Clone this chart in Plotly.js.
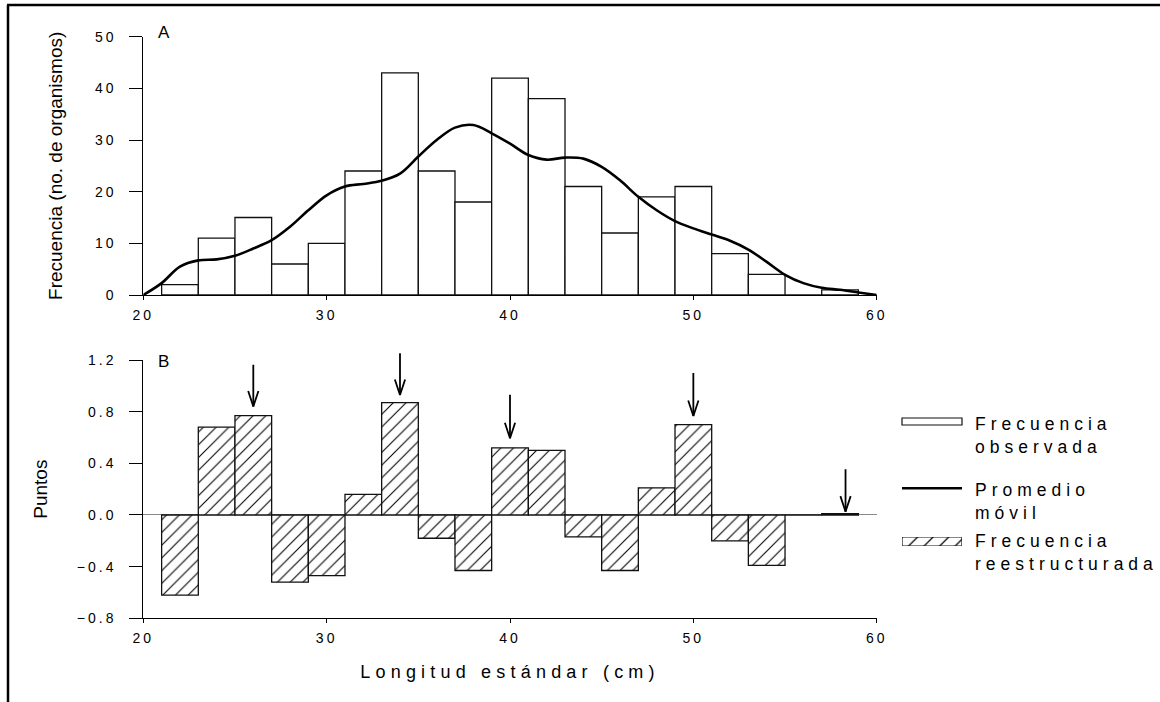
<!DOCTYPE html>
<html><head><meta charset="utf-8">
<script src="https://cdn.plot.ly/plotly-3.0.1.min.js"></script>
<style>
body{margin:0;padding:0;background:#fff}
#chart{width:1160px;height:702px}
.xtick text,.ytick text,.x2tick text,.y2tick text{letter-spacing:3px}
.g-xtitle text,.g-x2title text{letter-spacing:5.2px}
.annotation-text{letter-spacing:5px}
</style></head><body><div id="chart"></div>
<script>
// ---- data ----
const lengthBins = [22,24,26,28,30,32,34,36,38,40,42,44,46,48,50,52,54,56,58];
const observedFreq = [2,11,15,6,10,24,43,24,18,42,38,21,12,19,21,8,4,0,1];
const restructuredPts = [-0.62,0.68,0.77,-0.52,-0.47,0.16,0.87,-0.18,-0.43,0.52,0.50,-0.17,-0.43,0.21,0.70,-0.20,-0.39,0,0.01];
const movAvgX = [20,21,22,23,24,25,26,27,28,29,30,31,32,33,34,35,36,37,38,39,40,41,42,43,44,45,46,47,48,49,50,51,52,53,54,55,56,57,58,59,60];
const movAvgY = [0,2.3,5.5,6.7,6.9,7.6,9.0,10.6,13.2,16.4,19.3,21.0,21.5,22.1,23.5,26.8,30.0,32.4,32.9,31.3,29.3,27.1,26.2,26.6,26.4,24.8,22.2,19.0,16.4,14.3,12.9,11.7,10.5,8.8,6.4,3.9,2.3,1.4,1.0,0.5,0];
const peakX = [26,34,40,50,58.3];
const arrowTop = [1.175,1.264,0.942,1.11,0.366];
const arrowTip = [0.84,0.929,0.594,0.766,0.026];
const xTicks = [20,30,40,50,60];
const freqTicks = [0,10,20,30,40,50];
const ptsTicks = [-0.8,-0.4,0,0.4,0.8,1.2];
const legendLabels = ["Frecuencia<br>observada","Promedio<br>móvil","Frecuencia<br>reestructurada"];

// ---- styles / geometry ----
const W = 1160, H = 702;
const px = v => v / W, py = v => 1 - v / H;
const FONT = "Liberation Sans, Arial, Helvetica, sans-serif";
const xDom = [px(143.3), px(876.7)];

// arrowheads (open V) built from the arrow arrays
const headHalfW = 0.28, headLen = 0.12;
const headX = [], headY = [];
peakX.forEach((x, i) => {
  headX.push(x - headHalfW, x, x + headHalfW, null);
  headY.push(arrowTip[i] + headLen, arrowTip[i], arrowTip[i] + headLen, null);
});
// arrow shafts as annotations (not clipped at the top of the panel)
const shaftAnnots = peakX.map((x, i) => ({
  xref:'x2', yref:'y2', axref:'x2', ayref:'y2', x:x, y:arrowTip[i], ax:x, ay:arrowTop[i],
  text:'', showarrow:true, arrowhead:0, arrowwidth:1.8, arrowcolor:'#000', standoff:0, startstandoff:0
}));

const hatch = {shape:'/', fgcolor:'#000', bgcolor:'#fff', size:9, solidity:0.12};

const traces = [
  {type:'bar', x:lengthBins, y:observedFreq, width:2, xaxis:'x', yaxis:'y',
   marker:{color:'#fff', line:{color:'#111', width:1.3}}, name:'Frecuencia observada', showlegend:false},
  {type:'scatter', mode:'lines', x:movAvgX, y:movAvgY, xaxis:'x', yaxis:'y',
   line:{color:'#000', width:2.6, shape:'spline', smoothing:1}, name:'Promedio móvil', showlegend:false},
  {type:'bar', x:lengthBins, y:restructuredPts, width:2, xaxis:'x2', yaxis:'y2',
   marker:{color:'#fff', pattern:hatch, line:{color:'#111', width:1.3}}, name:'Frecuencia reestructurada', showlegend:false},
  {type:'scatter', mode:'lines', x:headX, y:headY, xaxis:'x2', yaxis:'y2', cliponaxis:false,
   line:{color:'#000', width:1.8}, showlegend:false, hoverinfo:'skip'},
  // legend swatch for hatched bars
  {type:'bar', x:[0.5], y:[1], width:[1], xaxis:'x3', yaxis:'y3',
   marker:{color:'#fff', pattern:{shape:'/', fgcolor:'#000', bgcolor:'#fff', size:11, solidity:0.11}, line:{color:'#111', width:1.2}},
   showlegend:false, hoverinfo:'skip'}
];

const tickFont = {family:FONT, size:14, color:'#000'};
const baseX = {range:[20,60], tickvals:xTicks, ticks:'outside', ticklen:4, tickcolor:'#000',
  showline:true, linecolor:'#000', linewidth:1, showgrid:false, zeroline:false, tickfont:tickFont,
  ticklabelstandoff:3, fixedrange:true};
const baseY = {ticks:'outside', ticklen:13, tickcolor:'#000', showline:true, linecolor:'#000', linewidth:1,
  showgrid:false, tickfont:tickFont, ticklabelstandoff:10, fixedrange:true};

const labelFont = {family:FONT, size:17, color:'#000'};
const legFont = {family:FONT, size:17.5, color:'#000'};

const layout = {
  width:W, height:H, margin:{l:0,r:0,t:0,b:0}, paper_bgcolor:'#fff', plot_bgcolor:'rgba(0,0,0,0)',
  showlegend:false, font:{family:FONT, color:'#000'},
  xaxis: Object.assign({}, baseX, {domain:xDom, anchor:'y'}),
  yaxis: Object.assign({}, baseY, {domain:[py(295), py(36.7)], anchor:'x', range:[0,50], tickvals:freqTicks, zeroline:false,
    title:{text:'Frecuencia (no. de organismos)', font:{family:FONT, size:19, color:'#000'}, standoff:27}}),
  xaxis2: Object.assign({}, baseX, {domain:xDom, anchor:'y2',
    title:{text:'Longitud estándar (cm)', font:{family:FONT, size:18, color:'#000'}, standoff:20}}),
  yaxis2: Object.assign({}, baseY, {domain:[py(618.3), py(360)], anchor:'x2', range:[-0.8,1.2], tickvals:ptsTicks, tickformat:'.1f',
    zeroline:true, zerolinecolor:'#888', zerolinewidth:1,
    title:{text:'Puntos', font:{family:FONT, size:19, color:'#000'}, standoff:24}}),
  xaxis3: {domain:[px(902), px(962)], anchor:'y3', range:[0,1], visible:false, fixedrange:true},
  yaxis3: {domain:[py(546), py(537)], anchor:'x3', range:[0,1], visible:false, fixedrange:true},
  shapes: [
    {type:'line', xref:'paper', yref:'paper', x0:px(7), x1:1, y0:py(5), y1:py(5), line:{color:'#000', width:2.5}},
    {type:'line', xref:'paper', yref:'paper', x0:px(8), x1:px(8), y0:py(5), y1:0, line:{color:'#000', width:2.5}},
    {type:'rect', xref:'paper', yref:'paper', x0:px(902), x1:px(962), y0:py(425), y1:py(418), line:{color:'#111', width:1.2}, fillcolor:'#fff'},
    {type:'line', xref:'paper', yref:'paper', x0:px(902), x1:px(962), y0:py(488.3), y1:py(488.3), line:{color:'#000', width:2.5}}
  ],
  annotations: [
    {text:'A', xref:'paper', yref:'paper', x:px(156), y:py(32), xanchor:'left', yanchor:'middle', showarrow:false, font:labelFont},
    {text:'B', xref:'paper', yref:'paper', x:px(156), y:py(361), xanchor:'left', yanchor:'middle', showarrow:false, font:labelFont},
    {text:legendLabels[0], xref:'paper', yref:'paper', x:px(973), y:py(435), xanchor:'left', yanchor:'middle', align:'left', showarrow:false, font:legFont},
    {text:legendLabels[1], xref:'paper', yref:'paper', x:px(973), y:py(501.5), xanchor:'left', yanchor:'middle', align:'left', showarrow:false, font:legFont},
    {text:legendLabels[2], xref:'paper', yref:'paper', x:px(973), y:py(552), xanchor:'left', yanchor:'middle', align:'left', showarrow:false, font:legFont}
  ].concat(shaftAnnots)
};

Plotly.newPlot('chart', traces, layout, {staticPlot:true, displayModeBar:false});
</script></body></html>
